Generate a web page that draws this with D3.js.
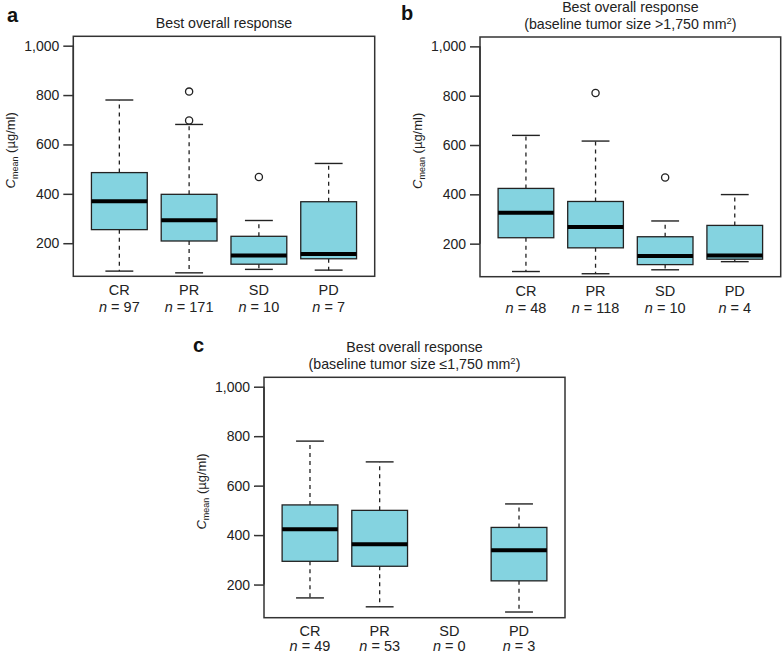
<!DOCTYPE html>
<html>
<head>
<meta charset="utf-8">
<script src="https://cdn.jsdelivr.net/npm/d3@7"></script>
<style>
  html, body { margin: 0; padding: 0; background: #fff; }
  svg { display: block; font-family: "Liberation Sans", Arial, Helvetica, sans-serif; }
</style>
</head>
<body>
<svg id="chart" width="784" height="655"></svg>
<script>
// ---------- data ----------
const categories = ["CR", "PR", "SD", "PD"];
const yTicks = [200, 400, 600, 800, 1000];
const yTickLabels = ["200", "400", "600", "800", "1,000"];

// Panel a: best overall response (all)
const nA = [97, 171, 10, 7];
const lowA = [87, 80, 94, 91];
const q1A = [255, 209, 115, 137];
const medA = [370, 293, 150, 156];
const q3A = [486, 398, 228, 368];
const highA = [780, 681, 292, 523];
const outA = [[], [814, 697], [468], []];

// Panel b: baseline tumor size > 1,750 mm2
const nB = [48, 118, 10, 4];
const lowB = [87, 78, 94, 127];
const q1B = [224, 183, 115, 137];
const medB = [325, 268, 150, 152];
const q3B = [424, 371, 228, 274];
const highB = [639, 616, 292, 399];
const outB = [[], [811], [468], []];

// Panel c: baseline tumor size <= 1,750 mm2
const nC = [49, 53, 0, 3];
const lowC = [146, 110, null, 89];
const q1C = [294, 274, null, 215];
const medC = [424, 363, null, 339];
const q3C = [522, 500, null, 431];
const highC = [780, 696, null, 526];
const outC = [[], [], [], []];

const titleA = ["Best overall response"];
const titleB = ["Best overall response", "(baseline tumor size >1,750 mm", ")"];
const titleC = ["Best overall response", "(baseline tumor size \u22641,750 mm", ")"];

// ---------- drawing ----------
const svg = d3.select("#chart");
const FILL = "#84d3e0";
const INK = "#222";

function buildStats(n, low, q1, med, q3, high, out) {
  return categories.map((c, i) => ({
    cat: c, n: n[i], low: low[i], q1: q1[i], med: med[i], q3: q3[i], high: high[i], out: out[i]
  }));
}

function panel(opt) {
  const { x0, x1, y0, y1, stats, title, letter, letterPos, labOff } = opt;
  const g = svg.append("g");
  const x = d3.scaleLinear().domain([0.34, 4.66]).range([x0, x1]);
  const y = d3.scaleLinear().domain([66, 1038]).range([y1, y0]);
  const unit = x(2) - x(1);
  const bw = unit * 0.8;
  const cw = unit * 0.4;

  // boxes
  stats.forEach((d, i) => {
    if (d.med == null) return;
    const cx = x(i + 1);
    g.append("line").attr("x1", cx).attr("x2", cx).attr("y1", y(d.q3)).attr("y2", y(d.high))
      .attr("stroke", INK).attr("stroke-width", 1.3).attr("stroke-dasharray", "4,4");
    g.append("line").attr("x1", cx).attr("x2", cx).attr("y1", y(d.q1)).attr("y2", y(d.low))
      .attr("stroke", INK).attr("stroke-width", 1.3).attr("stroke-dasharray", "4,4");
    [d.high, d.low].forEach(v => {
      g.append("line").attr("x1", cx - cw / 2).attr("x2", cx + cw / 2).attr("y1", y(v)).attr("y2", y(v))
        .attr("stroke", INK).attr("stroke-width", 1.4);
    });
    g.append("rect").attr("x", cx - bw / 2).attr("width", bw)
      .attr("y", y(d.q3)).attr("height", y(d.q1) - y(d.q3))
      .attr("fill", FILL).attr("stroke", INK).attr("stroke-width", 1.3);
    g.append("line").attr("x1", cx - bw / 2).attr("x2", cx + bw / 2).attr("y1", y(d.med)).attr("y2", y(d.med))
      .attr("stroke", "#000").attr("stroke-width", 4);
    d.out.forEach(v => {
      g.append("circle").attr("cx", cx).attr("cy", y(v)).attr("r", 3.6)
        .attr("fill", "none").attr("stroke", INK).attr("stroke-width", 1.3);
    });
  });

  // frame
  g.append("rect").attr("x", x0).attr("y", y0).attr("width", x1 - x0).attr("height", y1 - y0)
    .attr("fill", "none").attr("stroke", "#333").attr("stroke-width", 1.5);

  // y axis
  const yAxis = d3.axisLeft(y).tickValues(yTicks).tickSize(10).tickPadding(4)
    .tickFormat((v, i) => yTickLabels[i]);
  const ax = g.append("g").attr("transform", `translate(${x0},0)`).call(yAxis);
  ax.select(".domain").attr("d", `M0,${y(1000)}V${y(200)}`).attr("stroke", "#333").attr("stroke-width", 1.5);
  ax.selectAll(".tick line").attr("stroke", "#333").attr("stroke-width", 1.5);
  ax.selectAll(".tick text").attr("font-size", 14).attr("fill", "#222")
    .attr("font-family", "'Liberation Sans', Arial, sans-serif");

  // y label
  const ly = (y0 + y1) / 2 - 6;
  const lab = g.append("text").attr("transform", `translate(${x0 - 58},${ly}) rotate(-90)`)
    .attr("text-anchor", "middle").attr("font-size", 13).attr("fill", "#222");
  lab.append("tspan").attr("font-style", "italic").text("C");
  lab.append("tspan").attr("font-size", 9).attr("dy", 3).text("mean");
  lab.append("tspan").attr("dy", -3).text(" (\u00b5g/ml)");

  // x labels
  stats.forEach((d, i) => {
    const cx = x(i + 1);
    g.append("text").attr("x", cx).attr("y", y1 + labOff[0]).attr("text-anchor", "middle")
      .attr("font-size", 14.5).attr("fill", "#222").text(d.cat);
    const t = g.append("text").attr("x", cx).attr("y", y1 + labOff[1]).attr("text-anchor", "middle")
      .attr("font-size", 14.5).attr("fill", "#222");
    t.append("tspan").attr("font-style", "italic").text("n");
    t.append("tspan").text(" = " + d.n);
  });

  // title
  const tc = (x0 + x1) / 2;
  if (title.length === 1) {
    g.append("text").attr("x", tc).attr("y", y0 - 8).attr("text-anchor", "middle")
      .attr("font-size", 14.2).attr("fill", "#222").text(title[0]);
  } else {
    g.append("text").attr("x", tc).attr("y", y0 - 25).attr("text-anchor", "middle")
      .attr("font-size", 14.2).attr("fill", "#222").text(title[0]);
    const t2 = g.append("text").attr("x", tc).attr("y", y0 - 8).attr("text-anchor", "middle")
      .attr("font-size", 14.2).attr("fill", "#222");
    t2.append("tspan").text(title[1]);
    t2.append("tspan").attr("font-size", 9.5).attr("dy", -5).text("2");
    t2.append("tspan").attr("dy", 5).text(title[2]);
  }

  // panel letter
  svg.append("text").attr("x", letterPos[0]).attr("y", letterPos[1])
    .attr("font-size", 20).attr("font-weight", "bold").attr("fill", "#111").text(letter);
}

panel({ x0: 73.3, x1: 374.7, y0: 36.3, y1: 276.3, labOff: [19, 36],
  stats: buildStats(nA, lowA, q1A, medA, q3A, highA, outA), title: titleA, letter: "a", letterPos: [7, 22] });
panel({ x0: 480, x1: 780.7, y0: 37, y1: 276.7, labOff: [19, 36],
  stats: buildStats(nB, lowB, q1B, medB, q3B, highB, outB), title: titleB, letter: "b", letterPos: [401, 20] });
panel({ x0: 264, x1: 565, y0: 377.3, y1: 617.7, labOff: [18, 33],
  stats: buildStats(nC, lowC, q1C, medC, q3C, highC, outC), title: titleC, letter: "c", letterPos: [193, 352] });
</script>
</body>
</html>
